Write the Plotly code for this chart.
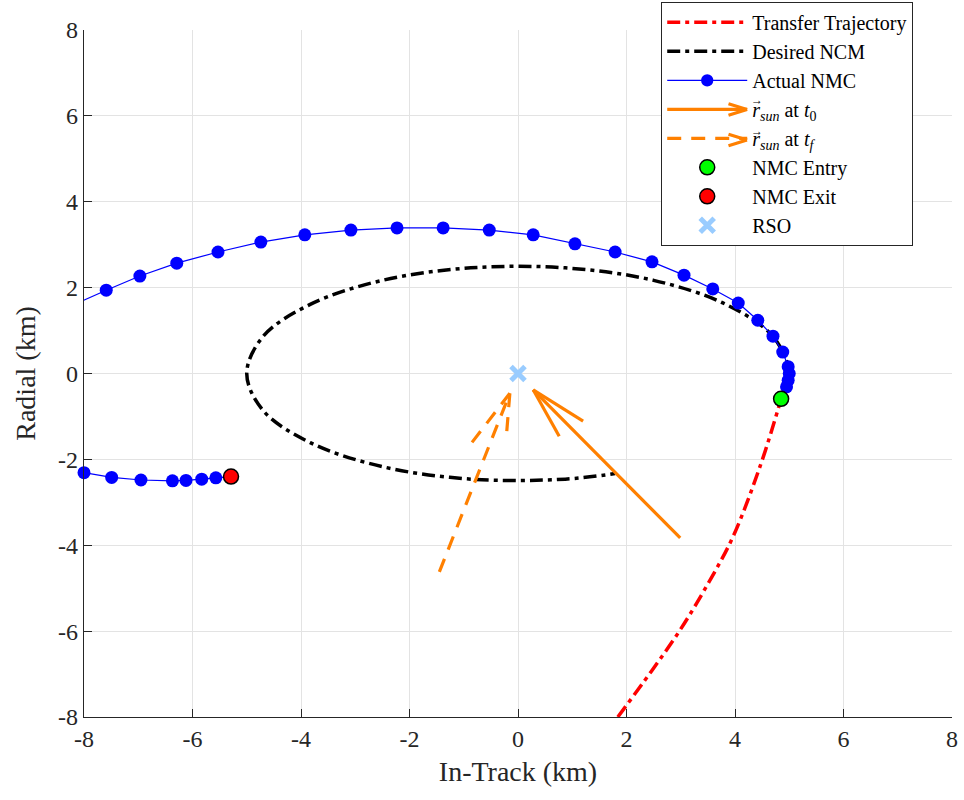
import plotly.graph_objects as go

# ---------------- data (km) ----------------
transfer_x = [1.84, 2.45, 2.99, 3.50, 3.96, 4.46, 4.79, 4.85]
transfer_y = [-8.00, -6.95, -5.97, -4.90, -3.81, -2.17, -0.85, -0.59]

ncm_x = [4.86, 5.00, 4.70, 3.83, 2.50, 0.87, -0.87, -2.50, -3.83, -4.70, -5.00,
         -4.70, -3.83, -2.50, -0.87, 0.87, 1.79]
ncm_y = [-0.58, 0.00, 0.86, 1.61, 2.17, 2.46, 2.46, 2.17, 1.61, 0.86, 0.00,
         -0.86, -1.61, -2.17, -2.46, -2.46, -2.33]

nmc_x = [4.85, 4.95, 4.98, 5.00, 4.98, 4.88, 4.70, 4.42, 4.06, 3.59, 3.06, 2.47,
         1.79, 1.05, 0.28, -0.53, -1.38, -2.23, -3.08, -3.93, -4.74, -5.53,
         -6.29, -6.97, -7.59, -8.40, None,
         -8.40, -8.00, -7.49, -6.95, -6.37, -6.12, -5.83, -5.57, -5.29]
nmc_y = [-0.59, -0.31, -0.16, 0.00, 0.16, 0.50, 0.87, 1.24, 1.64, 1.97, 2.29, 2.60,
         2.83, 3.02, 3.23, 3.34, 3.39, 3.39, 3.34, 3.23, 3.06, 2.83,
         2.57, 2.27, 1.94, 1.48, None,
         -2.12, -2.31, -2.42, -2.48, -2.50, -2.49, -2.46, -2.43, -2.40]

sun0_tail = (2.99, -3.83)
sun0_tip = (0.28, -0.38)
sun0_barbs = [(1.20, -1.11), (0.76, -1.46)]

sunf_tail = (-1.45, -4.62)
sunf_tip = (-0.15, -0.46)
sunf_barbs = [(-0.90, -1.69), (-0.22, -1.55)]

entry_pt = (4.85, -0.59)
exit_pt = (-5.29, -2.40)
rso_pt = (0.0, 0.0)

tick_vals = [-8, -6, -4, -2, 0, 2, 4, 6, 8]
tick_text = ["-8", "-6", "-4", "-2", "0", "2", "4", "6", "8"]

labels = ["Transfer Trajectory", "Desired NCM", "Actual NMC",
          "<i>r</i><sub><i>sun</i></sub> at <i>t</i><sub>0</sub>",
          "<i>r</i><sub><i>sun</i></sub> at <i>t<sub>f</sub></i>",
          "NMC Entry", "NMC Exit", "RSO"]

FONT = "'Liberation Serif', 'DejaVu Serif', serif"
ORANGE = "#ff8000"

# ---------------- layout geometry (px) ----------------
W, H = 964, 800
ML, MR, MT, MB = 84, 12, 30, 83
PW, PH = W - ML - MR, H - MT - MB


def px2paper(px, py):
    return (px - ML) / PW, (H - MB - py) / PH


def arrow_path(tail, tip, barbs):
    xs = [tail[0], tip[0]]
    ys = [tail[1], tip[1]]
    for b in barbs:
        xs += [None, tip[0], b[0]]
        ys += [None, tip[1], b[1]]
    return xs, ys


fig = go.Figure()

fig.add_trace(go.Scatter(
    x=transfer_x, y=transfer_y, mode="lines", name=labels[0],
    line=dict(color="#ff0000", width=3.5, dash="13px,5px,4px,5px", shape="spline")))

fig.add_trace(go.Scatter(
    x=ncm_x, y=ncm_y, mode="lines", name=labels[1],
    line=dict(color="#000000", width=3.5, dash="13px,5px,4px,5px", shape="spline")))

sizes = [0 if (v is not None and abs(v) > 8) else 13 for v in nmc_x]
fig.add_trace(go.Scatter(
    x=nmc_x, y=nmc_y, mode="lines+markers", name=labels[2],
    line=dict(color="#0000ff", width=1.2),
    marker=dict(color="#0000ff", size=sizes, opacity=1, line=dict(width=0)),
    cliponaxis=False))

ax, ay = arrow_path(sun0_tail, sun0_tip, sun0_barbs)
fig.add_trace(go.Scatter(
    x=ax, y=ay, mode="lines", name=labels[3],
    line=dict(color=ORANGE, width=3.2)))

ax, ay = arrow_path(sunf_tail, sunf_tip, sunf_barbs)
fig.add_trace(go.Scatter(
    x=ax, y=ay, mode="lines", name=labels[4],
    line=dict(color=ORANGE, width=3.2, dash="14px,10px")))

fig.add_trace(go.Scatter(
    x=[entry_pt[0]], y=[entry_pt[1]], mode="markers", name=labels[5],
    marker=dict(color="#00ff00", size=15, line=dict(color="#000000", width=1.5)),
    cliponaxis=False))

fig.add_trace(go.Scatter(
    x=[exit_pt[0]], y=[exit_pt[1]], mode="markers", name=labels[6],
    marker=dict(color="#ff0000", size=15, line=dict(color="#000000", width=1.5)),
    cliponaxis=False))

fig.add_trace(go.Scatter(
    x=[rso_pt[0]], y=[rso_pt[1]], mode="markers", name=labels[7],
    marker=dict(symbol="x-thin", size=14, color="#99ccff",
                line=dict(color="#99ccff", width=5)),
    cliponaxis=False))

axis_common = dict(
    range=[-8, 8], tickvals=tick_vals, ticktext=tick_text,
    showgrid=True, gridcolor="#e3e3e3", gridwidth=1, zeroline=False,
    showline=True, linecolor="#262626", linewidth=1.2, mirror=False,
    ticks="inside", ticklen=8, tickcolor="#262626", tickwidth=1.2,
    tickfont=dict(family=FONT, size=24, color="#262626"),
)

fig.update_xaxes(**axis_common,
                 title=dict(text="In-Track (km)", font=dict(family=FONT, size=28, color="#262626"),
                            standoff=10))
fig.update_yaxes(**axis_common,
                 title=dict(text="Radial (km)", font=dict(family=FONT, size=28, color="#262626"),
                            standoff=14))

# legend decorations: vector arrows above "r" and chevron heads on the sample lines
sun_rows_py = [109.5, 140.0]
annotations = []
for ry in sun_rows_py:
    ax0, ay0 = px2paper(757, ry - 9)
    annotations.append(dict(x=ax0, y=ay0, xref="paper", yref="paper", text="→",
                            showarrow=False, font=dict(family=FONT, size=12, color="#000000"),
                            xanchor="center", yanchor="middle"))
    tx, ty = px2paper(747, ry)
    for dy in (-6, 6):
        annotations.append(dict(x=tx, y=ty, xref="paper", yref="paper", text="",
                                showarrow=True, arrowhead=0, arrowwidth=3.2,
                                arrowcolor=ORANGE, ax=-19, ay=dy, standoff=0,
                                startstandoff=0, borderpad=0))

fig.update_layout(
    width=W, height=H,
    margin=dict(l=ML, r=MR, t=MT, b=MB, autoexpand=False),
    plot_bgcolor="white", paper_bgcolor="white",
    font=dict(family=FONT, color="#000000"),
    legend=dict(
        x=0.665, y=1.041, xanchor="left", yanchor="top",
        bgcolor="white", bordercolor="#262626", borderwidth=1,
        font=dict(family=FONT, size=20, color="#000000"),
        itemwidth=80, tracegroupgap=0,
    ),
    annotations=annotations,
)

fig.write_html("out.html")
